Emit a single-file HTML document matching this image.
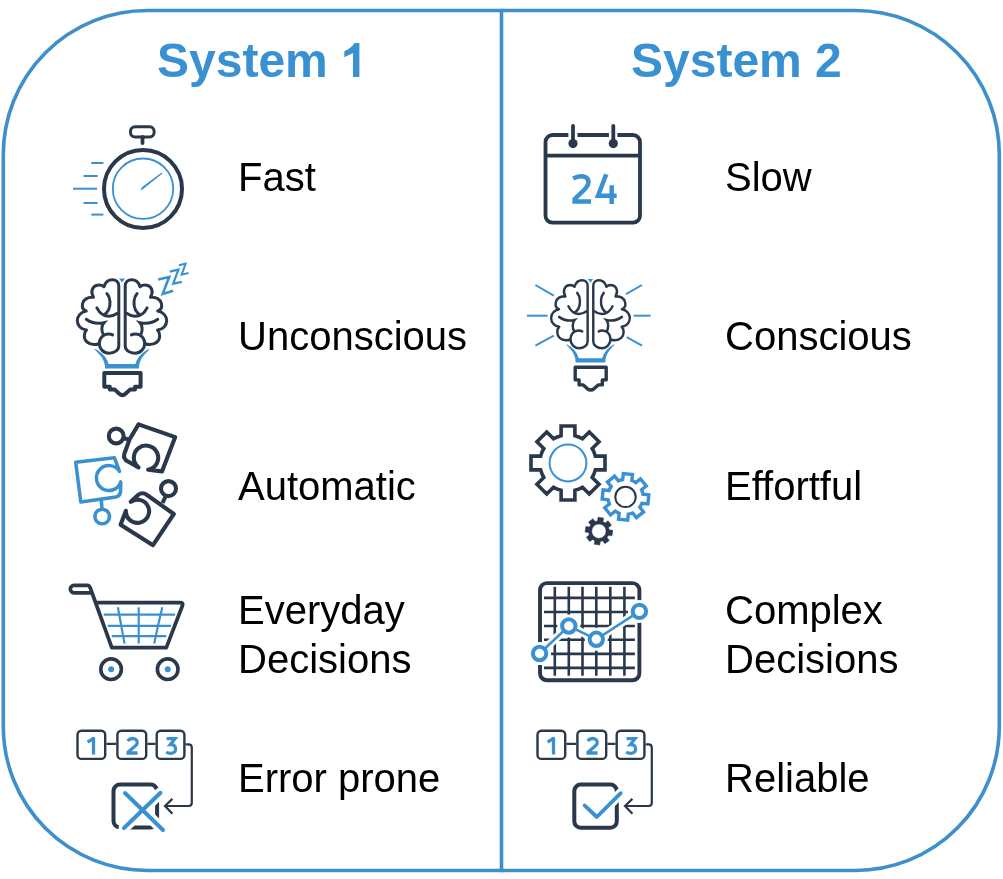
<!DOCTYPE html>
<html><head><meta charset="utf-8">
<style>
html,body{margin:0;padding:0;background:#fff;}
body{width:1003px;height:879px;position:relative;overflow:hidden;font-family:"Liberation Sans",sans-serif;}
.t{position:absolute;font-size:40px;color:#000;line-height:47.5px;white-space:nowrap;will-change:transform;transform:scaleY(1.02);transform-origin:0 0;}
.h{position:absolute;transform:scaleY(1.02);transform-origin:0 80%;font-size:48px;font-weight:bold;color:#3a91d1;white-space:nowrap;line-height:1;}
svg{position:absolute;left:0;top:0;}
</style></head><body>
<svg width="1003" height="879" viewBox="0 0 1003 879">
  <path d="M501.5 10.5 H147.3 A144 144 0 0 0 3.3 154.5 V726.5 A144 144 0 0 0 147.3 870.5 H501.5 Z" fill="none" stroke="#3f8fcb" stroke-width="3.6"/>
  <path d="M501.5 10.5 H855.3 A144 144 0 0 1 999.3 154.5 V726.5 A144 144 0 0 1 855.3 870.5 H501.5" fill="none" stroke="#3f8fcb" stroke-width="3.6"/>

<g id="stopwatch" fill="none" stroke-linecap="round">
  <circle cx="143" cy="189" r="39" stroke="#29384a" stroke-width="4"/>
  <circle cx="143" cy="188.7" r="30.2" stroke="#3a91d1" stroke-width="1.8"/>
  <rect x="130.5" y="126.7" width="23.6" height="10.3" rx="4.5" stroke="#29384a" stroke-width="3"/>
  <line x1="142.5" y1="137" x2="142.5" y2="143" stroke="#29384a" stroke-width="3.8" stroke-linecap="round"/>
  <path d="M141.5 189.5 L161.7 173.3 L142.8 187.2 Z" fill="#3a91d1" stroke="#3a91d1" stroke-width="1.2" stroke-linejoin="round"/>
  <g stroke="#3a91d1" stroke-width="2" stroke-linecap="butt">
    <line x1="91.3" y1="163" x2="103.4" y2="163"/>
    <line x1="83.5" y1="176" x2="97.7" y2="176"/>
    <line x1="73" y1="188.7" x2="97" y2="188.7"/>
    <line x1="83.5" y1="203" x2="97.7" y2="203"/>
    <line x1="91.3" y1="214.6" x2="103.4" y2="214.6"/>
  </g>
</g>
<g id="calendar" fill="none">
  <rect x="545.5" y="135" width="94.5" height="87.7" rx="7" stroke="#29384a" stroke-width="3.8"/>
  <rect x="568.4" y="130" width="9.1" height="10" fill="#fff"/>
  <rect x="608.9" y="130" width="8.5" height="10" fill="#fff"/>
  <line x1="545.5" y1="155.6" x2="640" y2="155.6" stroke="#29384a" stroke-width="3.8"/>
  <line x1="573" y1="126" x2="573" y2="143" stroke="#29384a" stroke-width="3.8" stroke-linecap="round"/>
  <line x1="613.3" y1="126" x2="613.3" y2="143" stroke="#29384a" stroke-width="3.8" stroke-linecap="round"/>
  <circle cx="573" cy="143.6" r="4.6" fill="#29384a"/>
  <circle cx="613.3" cy="143.6" r="4.6" fill="#29384a"/>
  <path d="M573.2 178.6 C576.5 176.6 580.5 176.1 583.3 176.5 C586.8 177.1 588.6 179.6 588.4 182.8 C588.2 185.6 586.5 187.6 583 191 L574.6 199.2 L574.6 201.5 L591 201.5" stroke="#3a91d1" stroke-width="4.5" stroke-linejoin="miter"/>
  <path d="M606.3 174.2 L598 195.8 L616.7 195.8 M611.7 185.3 L611.7 203.9" stroke="#3a91d1" stroke-width="4.5"/>
</g>
<g id="cart" fill="none" stroke-linejoin="round" stroke-linecap="round">
  <path d="M92 592.8 L74 592.8 A3.7 3.7 0 0 1 74 585.4 L87.5 585.4 Q89.3 585.4 90.3 588 L111.8 647.7 L166.3 647.7 L182.5 605.5 Q183.5 602.6 180 602.6 L96.3 602.6" stroke="#29384a" stroke-width="3.7"/>
  <g stroke="#3a91d1" stroke-width="2.2" stroke-linecap="butt">
    <line x1="103.7" y1="614.7" x2="175.1" y2="614.7"/>
    <line x1="107.8" y1="625.9" x2="171" y2="625.9"/>
    <line x1="111.8" y1="636.2" x2="166.3" y2="636.2"/>
    <line x1="138.7" y1="607.3" x2="138.7" y2="643.6"/>
    <path d="M117.9 607.3 Q121 625 124.6 643.6"/>
    <path d="M162.3 607.3 Q158 625 154.2 643.6"/>
  </g>
  <circle cx="111.1" cy="669.2" r="10.3" stroke="#29384a" stroke-width="3.6"/>
  <circle cx="167.7" cy="669.2" r="10.3" stroke="#29384a" stroke-width="3.6"/>
  <circle cx="111.1" cy="669.2" r="3" fill="#3a91d1"/>
  <circle cx="167.7" cy="669.2" r="3" fill="#3a91d1"/>
</g>

<g id="chart" fill="none">
  <rect x="540" y="583.1" width="99.4" height="97.2" rx="7" stroke="#29384a" stroke-width="3.9"/>
  <g stroke="#29384a" stroke-width="2.6">
    <line x1="554.8" y1="586.8" x2="554.8" y2="675.7"/>
    <line x1="568.8" y1="586.8" x2="568.8" y2="675.7"/>
    <line x1="582.5" y1="586.8" x2="582.5" y2="675.7"/>
    <line x1="596.3" y1="586.8" x2="596.3" y2="675.7"/>
    <line x1="610.3" y1="586.8" x2="610.3" y2="675.7"/>
    <line x1="624.4" y1="586.8" x2="624.4" y2="675.7"/>
    <line x1="544" y1="597.9" x2="634.9" y2="597.9"/>
    <line x1="544" y1="612" x2="634.9" y2="612"/>
    <line x1="544" y1="626" x2="634.9" y2="626"/>
    <line x1="544" y1="639.7" x2="634.9" y2="639.7"/>
    <line x1="544" y1="653.9" x2="634.9" y2="653.9"/>
    <line x1="544" y1="667.9" x2="634.9" y2="667.9"/>
  </g>
  <g stroke="#fff" stroke-width="8" stroke-linejoin="round">
    <path d="M539.6 653.5 L568.8 626 L596.3 639.3 L639.4 611.4"/>
  </g>
  <g fill="#fff">
    <circle cx="539.6" cy="653.5" r="11.5"/><circle cx="568.8" cy="626" r="11.5"/><circle cx="596.3" cy="639.3" r="11.5"/><circle cx="639.4" cy="611.4" r="11.5"/>
  </g>
  <path d="M539.6 653.5 L568.8 626 L596.3 639.3 L639.4 611.4" stroke="#3a91d1" stroke-width="2.5"/>
  <g stroke="#3a91d1" stroke-width="4" fill="#fff">
    <circle cx="539.6" cy="653.5" r="6.7"/><circle cx="568.8" cy="626" r="6.7"/><circle cx="596.3" cy="639.3" r="6.7"/><circle cx="639.4" cy="611.4" r="6.7"/>
  </g>
</g>
<g transform="translate(0,0)" fill="none">
<rect x="77.5" y="730.7" width="27.7" height="28.2" rx="4" stroke="#29384a" stroke-width="2.4"/>
<rect x="117.4" y="730.7" width="28.8" height="28.2" rx="4" stroke="#29384a" stroke-width="2.4"/>
<rect x="156.7" y="730.7" width="27.7" height="28.2" rx="4" stroke="#29384a" stroke-width="2.4"/>
<path d="M106.4 743.9 H116.2 M147.4 743.9 H155.5" stroke="#29384a" stroke-width="2.3"/>
<path d="M87.6 742.2 L93.5 738.4 V754.4" stroke="#3a91d1" stroke-width="3.3" stroke-linejoin="round"/>
<path d="M127.6 740.8 C129.6 738.7 132.6 738.1 135 739.1 C137.3 740.1 137.8 742.9 136.4 744.9 L128 752.2 V753 H137.6" stroke="#3a91d1" stroke-width="3.3"/>
<path d="M166.6 738.7 H175 L170.3 744.5 C173.5 744.3 175.6 746.1 175.6 748.9 C175.6 751.9 173.3 753.5 170.6 753.4 C168.9 753.4 167.4 752.9 166.2 752" stroke="#3a91d1" stroke-width="3.3" stroke-linejoin="miter"/>
<rect x="113.5" y="784.6" width="43.6" height="43" rx="6.5" stroke="#29384a" stroke-width="4"/>
<path d="M125 793 L163 830 M160.5 792.8 L124 828" stroke="#fff" stroke-width="11" stroke-linecap="round"/>
<path d="M125 793 L163 830 M160.5 792.8 L124 828" stroke="#3a91d1" stroke-width="4" stroke-linecap="round"/>
<path d="M185.6 744.4 H188.5 Q191.8 744.4 191.8 747.7 V802.7 Q191.8 806 188.5 806 H165" stroke="#29384a" stroke-width="2.2"/>
<path d="M172.4 798.9 L165 806 L172.4 813.8" stroke="#29384a" stroke-width="2.2" stroke-linejoin="miter"/>
</g>
<g transform="translate(460,0)" fill="none">
<rect x="77.5" y="730.7" width="27.7" height="28.2" rx="4" stroke="#29384a" stroke-width="2.4"/>
<rect x="117.4" y="730.7" width="28.8" height="28.2" rx="4" stroke="#29384a" stroke-width="2.4"/>
<rect x="156.7" y="730.7" width="27.7" height="28.2" rx="4" stroke="#29384a" stroke-width="2.4"/>
<path d="M106.4 743.9 H116.2 M147.4 743.9 H155.5" stroke="#29384a" stroke-width="2.3"/>
<path d="M87.6 742.2 L93.5 738.4 V754.4" stroke="#3a91d1" stroke-width="3.3" stroke-linejoin="round"/>
<path d="M127.6 740.8 C129.6 738.7 132.6 738.1 135 739.1 C137.3 740.1 137.8 742.9 136.4 744.9 L128 752.2 V753 H137.6" stroke="#3a91d1" stroke-width="3.3"/>
<path d="M166.6 738.7 H175 L170.3 744.5 C173.5 744.3 175.6 746.1 175.6 748.9 C175.6 751.9 173.3 753.5 170.6 753.4 C168.9 753.4 167.4 752.9 166.2 752" stroke="#3a91d1" stroke-width="3.3" stroke-linejoin="miter"/>
<rect x="114.3" y="784.6" width="42.5" height="43.2" rx="6.5" stroke="#29384a" stroke-width="4"/>
<path d="M124.6 805.4 L136.8 817 L160.7 793.2" stroke="#fff" stroke-width="10" stroke-linecap="round"/>
<path d="M124.6 805.4 L136.8 817 L160.7 793.2" stroke="#3a91d1" stroke-width="3.8" stroke-linecap="round" stroke-linejoin="round"/>
<path d="M185.6 744.4 H188.5 Q191.8 744.4 191.8 747.7 V802.7 Q191.8 806 188.5 806 H165" stroke="#29384a" stroke-width="2.2"/>
<path d="M172.4 798.9 L165 806 L172.4 813.8" stroke="#29384a" stroke-width="2.2" stroke-linejoin="miter"/>
</g>
<g transform="translate(70,270) scale(1)" stroke="#29384a" stroke-width="3" stroke-linecap="round">
<path d="M48.8 76 V16 C48.8 12 46 9.8 42.5 9.8 C38.5 9.8 35.2 12.5 34 16.8 C32 15 29.5 14.8 27.3 15.2 C22.5 16 20 21.5 23.5 27.3 C18 26.5 13.5 29.5 12.6 33.5 C11.8 37 13 40 16.3 41 C10.5 42 7.3 46.5 7.3 50.5 C7.3 55.5 11 59.5 16.5 60 C13.5 63 13.5 69 17 72 C20 74.5 25 75 29.2 73.7 C29.5 79 33.5 83.2 39 83.2 C44.5 83.2 48.8 80 48.8 76 Z" fill="none" stroke-linejoin="round"/>
<path d="M29.2 73.7 C29.2 68 33.5 64 38.5 64 C40 64 41.5 64.3 42.6 64.9" fill="none"/>
<path d="M36.9 23.5 C40.5 27.5 41 35 38.5 40 C37 42.5 35.5 44 34 44.8" fill="none"/>
<path d="M26.9 37.9 C29.5 43 34 46.3 39 46.3 C42 46.3 45 45 47.5 43.3" fill="none"/>
<path d="M16.3 49.3 C20 52 26 54.5 34 52.7 C31.5 55.5 31 61 33.5 65" fill="none"/>
<g transform="translate(104,0) scale(-1,1)"><path d="M48.8 76 V16 C48.8 12 46 9.8 42.5 9.8 C38.5 9.8 35.2 12.5 34 16.8 C32 15 29.5 14.8 27.3 15.2 C22.5 16 20 21.5 23.5 27.3 C18 26.5 13.5 29.5 12.6 33.5 C11.8 37 13 40 16.3 41 C10.5 42 7.3 46.5 7.3 50.5 C7.3 55.5 11 59.5 16.5 60 C13.5 63 13.5 69 17 72 C20 74.5 25 75 29.2 73.7 C29.5 79 33.5 83.2 39 83.2 C44.5 83.2 48.8 80 48.8 76 Z" fill="none" stroke-linejoin="round"/>
<path d="M29.2 73.7 C29.2 68 33.5 64 38.5 64 C40 64 41.5 64.3 42.6 64.9" fill="none"/>
<path d="M36.9 23.5 C40.5 27.5 41 35 38.5 40 C37 42.5 35.5 44 34 44.8" fill="none"/>
<path d="M26.9 37.9 C29.5 43 34 46.3 39 46.3 C42 46.3 45 45 47.5 43.3" fill="none"/>
<path d="M16.3 49.3 C20 52 26 54.5 34 52.7 C31.5 55.5 31 61 33.5 65" fill="none"/></g>
<path d="M49 8.5 L55 8.5 L52 12.5 Z" fill="#3a91d1" stroke="none"/>
<path d="M24.48 79.16 L25.36 80.29 L26.33 81.28 L27.30 82.26 L28.24 83.23 L29.15 84.21 L30.02 85.21 L30.84 86.23 L31.60 87.28 L32.30 88.37 L32.93 89.50 L33.49 90.69 L33.98 91.93 L34.39 93.25 L34.72 94.64 L34.96 96.13 L35.11 97.72 L39.29 97.28 L38.96 95.42 L38.51 93.68 L37.95 92.06 L37.30 90.54 L36.55 89.13 L35.73 87.81 L34.83 86.60 L33.87 85.47 L32.87 84.42 L31.81 83.45 L30.72 82.53 L29.59 81.68 L28.44 80.87 L27.26 80.11 L26.04 79.40 L24.72 78.84 Z M79.28 78.84 L77.96 79.40 L76.74 80.11 L75.56 80.87 L74.41 81.68 L73.28 82.53 L72.19 83.45 L71.13 84.42 L70.13 85.47 L69.17 86.60 L68.27 87.81 L67.45 89.13 L66.70 90.54 L66.05 92.06 L65.49 93.68 L65.04 95.42 L64.71 97.28 L68.89 97.72 L69.04 96.13 L69.28 94.64 L69.61 93.25 L70.02 91.93 L70.51 90.69 L71.07 89.50 L71.70 88.37 L72.40 87.28 L73.16 86.23 L73.98 85.21 L74.85 84.21 L75.76 83.23 L76.70 82.26 L77.67 81.28 L78.64 80.29 L79.52 79.16 Z M35.1 98.6 H68.9 L68.7 94 H35.3 Z" fill="#3a91d1" stroke="none"/>
<path d="M34.3 103.1 H70.6 V116.7 H65 V119.6 H60 L55.5 123.8 Q52.4 126.5 49.3 123.8 L44.8 119.6 H39.8 V116.7 H34.3 Z" fill="none" stroke-width="3.99" stroke-linejoin="round"/>
</g>
<g fill="none" stroke="#3a91d1" stroke-width="2.6" stroke-linejoin="miter" stroke-linecap="butt">
<path d="M158.2 279.4 L169.2 277 L162.7 293.9 L173.2 290.7"/>
<path d="M169.7 271.7 L178.4 269.7 L173.2 283.7 L181.9 281.9" stroke-width="2.3"/>
<path d="M178.9 265.2 L185.6 263.7 L181.7 274.7 L188.6 273" stroke-width="2"/>
</g><g transform="translate(544.7,271.2) scale(0.88,0.926)" stroke="#29384a" stroke-width="2.75" stroke-linecap="round">
<path d="M48.8 76 V16 C48.8 12 46 9.8 42.5 9.8 C38.5 9.8 35.2 12.5 34 16.8 C32 15 29.5 14.8 27.3 15.2 C22.5 16 20 21.5 23.5 27.3 C18 26.5 13.5 29.5 12.6 33.5 C11.8 37 13 40 16.3 41 C10.5 42 7.3 46.5 7.3 50.5 C7.3 55.5 11 59.5 16.5 60 C13.5 63 13.5 69 17 72 C20 74.5 25 75 29.2 73.7 C29.5 79 33.5 83.2 39 83.2 C44.5 83.2 48.8 80 48.8 76 Z" fill="none" stroke-linejoin="round"/>
<path d="M29.2 73.7 C29.2 68 33.5 64 38.5 64 C40 64 41.5 64.3 42.6 64.9" fill="none"/>
<path d="M36.9 23.5 C40.5 27.5 41 35 38.5 40 C37 42.5 35.5 44 34 44.8" fill="none"/>
<path d="M26.9 37.9 C29.5 43 34 46.3 39 46.3 C42 46.3 45 45 47.5 43.3" fill="none"/>
<path d="M16.3 49.3 C20 52 26 54.5 34 52.7 C31.5 55.5 31 61 33.5 65" fill="none"/>
<g transform="translate(104,0) scale(-1,1)"><path d="M48.8 76 V16 C48.8 12 46 9.8 42.5 9.8 C38.5 9.8 35.2 12.5 34 16.8 C32 15 29.5 14.8 27.3 15.2 C22.5 16 20 21.5 23.5 27.3 C18 26.5 13.5 29.5 12.6 33.5 C11.8 37 13 40 16.3 41 C10.5 42 7.3 46.5 7.3 50.5 C7.3 55.5 11 59.5 16.5 60 C13.5 63 13.5 69 17 72 C20 74.5 25 75 29.2 73.7 C29.5 79 33.5 83.2 39 83.2 C44.5 83.2 48.8 80 48.8 76 Z" fill="none" stroke-linejoin="round"/>
<path d="M29.2 73.7 C29.2 68 33.5 64 38.5 64 C40 64 41.5 64.3 42.6 64.9" fill="none"/>
<path d="M36.9 23.5 C40.5 27.5 41 35 38.5 40 C37 42.5 35.5 44 34 44.8" fill="none"/>
<path d="M26.9 37.9 C29.5 43 34 46.3 39 46.3 C42 46.3 45 45 47.5 43.3" fill="none"/>
<path d="M16.3 49.3 C20 52 26 54.5 34 52.7 C31.5 55.5 31 61 33.5 65" fill="none"/></g>
<path d="M49 8.5 L55 8.5 L52 12.5 Z" fill="#3a91d1" stroke="none"/>
<path d="M24.48 79.16 L25.36 80.29 L26.33 81.28 L27.30 82.26 L28.24 83.23 L29.15 84.21 L30.02 85.21 L30.84 86.23 L31.60 87.28 L32.30 88.37 L32.93 89.50 L33.49 90.69 L33.98 91.93 L34.39 93.25 L34.72 94.64 L34.96 96.13 L35.11 97.72 L39.29 97.28 L38.96 95.42 L38.51 93.68 L37.95 92.06 L37.30 90.54 L36.55 89.13 L35.73 87.81 L34.83 86.60 L33.87 85.47 L32.87 84.42 L31.81 83.45 L30.72 82.53 L29.59 81.68 L28.44 80.87 L27.26 80.11 L26.04 79.40 L24.72 78.84 Z M79.28 78.84 L77.96 79.40 L76.74 80.11 L75.56 80.87 L74.41 81.68 L73.28 82.53 L72.19 83.45 L71.13 84.42 L70.13 85.47 L69.17 86.60 L68.27 87.81 L67.45 89.13 L66.70 90.54 L66.05 92.06 L65.49 93.68 L65.04 95.42 L64.71 97.28 L68.89 97.72 L69.04 96.13 L69.28 94.64 L69.61 93.25 L70.02 91.93 L70.51 90.69 L71.07 89.50 L71.70 88.37 L72.40 87.28 L73.16 86.23 L73.98 85.21 L74.85 84.21 L75.76 83.23 L76.70 82.26 L77.67 81.28 L78.64 80.29 L79.52 79.16 Z M35.1 98.6 H68.9 L68.7 94 H35.3 Z" fill="#3a91d1" stroke="none"/>

</g>
<path d="M575.2 367.3 H606.2 V379.9 H602.3 V384.9 H598.2 L594.2 388.6 Q590.7 391.6 587.2 388.6 L583.2 384.9 H579.1 V379.9 H575.2 Z" fill="none" stroke="#29384a" stroke-width="3.4" stroke-linejoin="round"/>
<g stroke="#3a91d1" stroke-width="2">
<line x1="535.4" y1="285" x2="553.8" y2="295.7"/>
<line x1="526.9" y1="315.7" x2="547.6" y2="315.7"/>
<line x1="535.4" y1="345.6" x2="553.8" y2="335.6"/>
<line x1="626" y1="294.2" x2="642" y2="285"/>
<line x1="633.6" y1="315.7" x2="650.5" y2="315.7"/>
<line x1="626.7" y1="337.2" x2="642" y2="345.6"/>
</g><g id="gears" fill="none" stroke-linejoin="miter">
<path d="M561.10 435.66 L561.10 426.00 L574.90 426.00 L574.90 435.66 A28.2 28.2 0 0 1 582.46 438.79 L589.28 431.96 L599.04 441.72 L592.21 448.54 A28.2 28.2 0 0 1 595.34 456.10 L605.00 456.10 L605.00 469.90 L595.34 469.90 A28.2 28.2 0 0 1 592.21 477.46 L599.04 484.28 L589.28 494.04 L582.46 487.21 A28.2 28.2 0 0 1 574.90 490.34 L574.90 500.00 L561.10 500.00 L561.10 490.34 A28.2 28.2 0 0 1 553.54 487.21 L546.72 494.04 L536.96 484.28 L543.79 477.46 A28.2 28.2 0 0 1 540.66 469.90 L531.00 469.90 L531.00 456.10 L540.66 456.10 A28.2 28.2 0 0 1 543.79 448.54 L536.96 441.72 L546.72 431.96 L553.54 438.79 A28.2 28.2 0 0 1 561.10 435.66 Z" stroke="#29384a" stroke-width="3.6"/>
<circle cx="568" cy="463" r="18.4" stroke="#3a91d1" stroke-width="2"/>
<path d="M622.70 479.52 L623.33 473.55 L632.48 474.51 L631.85 480.49 A17.6 17.6 0 0 1 635.81 482.63 L640.48 478.85 L646.27 486.00 L641.60 489.78 A17.6 17.6 0 0 1 642.88 494.10 L648.85 494.73 L647.89 503.88 L641.91 503.25 A17.6 17.6 0 0 1 639.77 507.21 L643.55 511.88 L636.40 517.67 L632.62 513.00 A17.6 17.6 0 0 1 628.30 514.28 L627.67 520.25 L618.52 519.29 L619.15 513.31 A17.6 17.6 0 0 1 615.19 511.17 L610.52 514.95 L604.73 507.80 L609.40 504.02 A17.6 17.6 0 0 1 608.12 499.70 L602.15 499.07 L603.11 489.92 L609.09 490.55 A17.6 17.6 0 0 1 611.23 486.59 L607.45 481.92 L614.60 476.13 L618.38 480.80 A17.6 17.6 0 0 1 622.70 479.52 Z" stroke="#3a91d1" stroke-width="3.4"/>
<circle cx="625.5" cy="496.9" r="10.2" stroke="#29384a" stroke-width="2"/>
<path d="M597.51 520.99 L598.02 517.34 L603.57 518.12 L603.05 521.77 A10.3 10.3 0 0 1 605.13 523.00 L608.08 520.78 L611.45 525.25 L608.50 527.47 A10.3 10.3 0 0 1 609.11 529.81 L612.76 530.32 L611.98 535.87 L608.33 535.35 A10.3 10.3 0 0 1 607.10 537.43 L609.32 540.38 L604.85 543.75 L602.63 540.80 A10.3 10.3 0 0 1 600.29 541.41 L599.78 545.06 L594.23 544.28 L594.75 540.63 A10.3 10.3 0 0 1 592.67 539.40 L589.72 541.62 L586.35 537.15 L589.30 534.93 A10.3 10.3 0 0 1 588.69 532.59 L585.04 532.08 L585.82 526.53 L589.47 527.05 A10.3 10.3 0 0 1 590.70 524.97 L588.48 522.02 L592.95 518.65 L595.17 521.60 A10.3 10.3 0 0 1 597.51 520.99 Z M606.1 531.2 A7.2 7.2 0 0 0 591.7 531.2 A7.2 7.2 0 0 0 606.1 531.2 Z" fill="#29384a" fill-rule="evenodd" stroke="#29384a" stroke-width="0.5"/>
</g>
<g id="puzzle" fill="none" stroke-linejoin="round" stroke-width="4.1">
<path d="M138.5 424.4 L175.2 437.1 L162 471.4 L148.1 469.8 A12.2 12.2 0 1 0 138.5 467.4 L128 461.5 Q123 459 124.3 454 L129.5 439.5 L138.5 424.4 Z" stroke="#29384a"/>
<circle cx="116.2" cy="436" r="7.4" stroke="#29384a"/>
<path d="M123.4 438.2 L129.5 439.5" stroke="#29384a"/>
<path d="M75.7 462.3 L114.4 457.7 L119.5 471.4 A12.5 12.5 0 1 0 120.8 481.9 L120.5 492 Q120 496 116 497 L80.8 501.9 Z" stroke="#3a91d1" stroke-width="3.5"/>
<circle cx="102.2" cy="516.5" r="7.3" stroke="#3a91d1" stroke-width="3.6"/>
<path d="M101.3 500 L102 509" stroke="#3a91d1" stroke-width="3.5"/>
<path d="M120.6 524.7 L153 545.2 L173.8 514 L147 495 Q142.3 491.5 138 495 L130.8 501.8 A11.6 11.6 0 1 1 125.9 510.8 Z" stroke="#29384a"/>
<circle cx="168.5" cy="488.6" r="7.5" stroke="#29384a"/>
<path d="M162.5 503 L166 495.5" stroke="#29384a"/>
</g>
<path d="M359.4 43 V76.9 H353 V53 L344.3 57.3 V51.3 C348.5 49.5 352.5 46.5 354.6 43 Z" fill="#3a91d1"/>
</svg>
<div class="h" id="h1" style="left:157px;top:37px;">System</div>
<div class="h" id="h2" style="left:631px;top:37px;">System 2</div>
<div class="t" style="left:238px;top:152.5px;">Fast</div>
<div class="t" style="left:238px;top:311.5px;">Unconscious</div>
<div class="t" style="left:238px;top:461.5px;">Automatic</div>
<div class="t" style="left:238px;top:586px;">Everyday<br>Decisions</div>
<div class="t" style="left:238px;top:753.5px;">Error prone</div>
<div class="t" style="left:725px;top:152.5px;">Slow</div>
<div class="t" style="left:725px;top:311.5px;">Conscious</div>
<div class="t" style="left:725px;top:461.5px;">Effortful</div>
<div class="t" style="left:725px;top:586px;">Complex<br>Decisions</div>
<div class="t" style="left:725px;top:753.5px;">Reliable</div>
</body></html>
